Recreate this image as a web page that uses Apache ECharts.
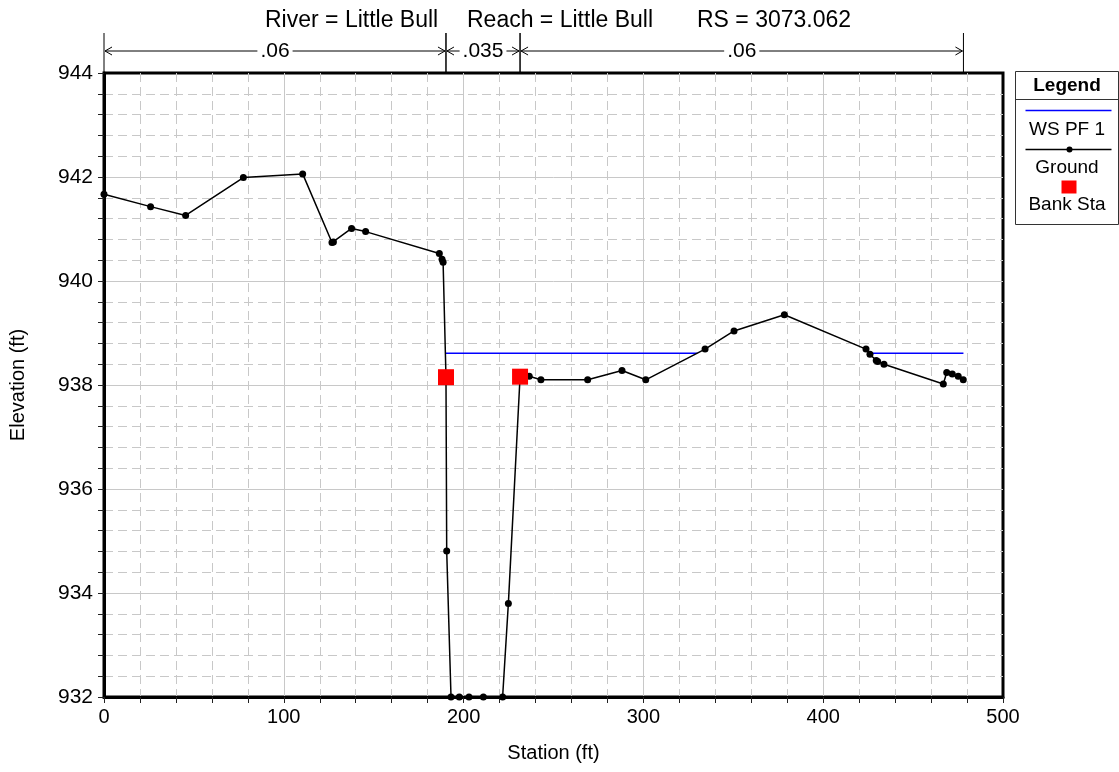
<!DOCTYPE html>
<html>
<head>
<meta charset="utf-8">
<title>Little Bull cross section</title>
<script src="https://cdn.jsdelivr.net/npm/echarts@6/dist/echarts.min.js"></script>
<style>
  html, body { margin: 0; padding: 0; background: #fff; }
  #echartsBox { width: 1119px; height: 772px; }
</style>
</head>
<body>
<div id="echartsBox"></div>
<script>
const FONT = '"Liberation Sans", Arial, sans-serif';

// ground survey points (station ft, elevation ft)
const groundStation = [0, 25.9, 45.4, 77.5, 110.5, 126.8, 127.6, 137.7, 145.5, 186.5, 188.0, 188.6, 190.2, 190.6,
  193.0, 197.6, 203.0, 211.0, 221.7, 224.9, 231.4, 236.5, 243.0, 269.0, 288.1, 301.3, 334.3, 350.4, 378.4,
  423.8, 426.0, 429.5, 430.3, 433.8, 466.8, 468.7, 471.8, 475.1, 477.9];
const groundElev = [941.67, 941.43, 941.26, 941.99, 942.06, 940.74, 940.75, 941.01, 940.95, 940.53, 940.42, 940.36, 938.15, 934.81,
  932.0, 932.0, 932.0, 932.0, 932.0, 933.80, 938.16, 938.17, 938.10, 938.10, 938.28, 938.10, 938.69, 939.04, 939.35,
  938.69, 938.59, 938.47, 938.45, 938.40, 938.02, 938.24, 938.21, 938.17, 938.10];

// water surface PF 1, two wetted stretches
const wsElev = 938.61;
const wsLeftStation = [190.0, 330.0];
const wsRightStation = [425.3, 478.0];

// bank stations
const bankStation = [190.2, 231.4];
const bankElev = [938.15, 938.16];

// manning's n regions
const nBreaks = [0, 190.2, 231.4, 478.0];
const nValues = ['.06', '.035', '.06'];

const xTicks = [0, 500, 100];
const yTicks = [932, 944, 2];

const zip = (xs, ys) => xs.map((x, i) => [x, ys[i]]);

function renderN(params, api) {
  const a = api.coord([api.value(0), yTicks[1]]);
  const b = api.coord([api.value(1), yTicks[1]]);
  const top = a[1];
  const yTop = top - 40;
  const yArr = top - 22;
  const mid = (a[0] + b[0]) / 2;
  const stroke = { stroke: '#000', lineWidth: 1 };
  return {
    type: 'group',
    children: [
      { type: 'line', shape: { x1: a[0], y1: yTop, x2: a[0], y2: top }, style: stroke },
      { type: 'line', shape: { x1: b[0], y1: yTop, x2: b[0], y2: top }, style: stroke },
      { type: 'line', shape: { x1: a[0] + 1, y1: yArr, x2: b[0] - 1, y2: yArr }, style: stroke },
      { type: 'polyline', shape: { points: [[a[0] + 8, yArr - 4], [a[0] + 1, yArr], [a[0] + 8, yArr + 4]] }, style: Object.assign({ fill: null }, stroke) },
      { type: 'polyline', shape: { points: [[b[0] - 8, yArr - 4], [b[0] - 1, yArr], [b[0] - 8, yArr + 4]] }, style: Object.assign({ fill: null }, stroke) },
      {
        type: 'text',
        z2: 10,
        style: {
          text: nValues[params.dataIndex], x: mid, y: yArr, align: 'center', verticalAlign: 'middle',
          font: '21px ' + FONT, fill: '#000', backgroundColor: '#fff', padding: [0, 3]
        }
      }
    ]
  };
}

const nData = nValues.map((v, i) => [nBreaks[i], nBreaks[i + 1], yTicks[1]]);

let option = {
  backgroundColor: '#fff',
  animation: false,
  textStyle: { fontFamily: FONT },
  grid: {
    left: 104, top: 73, width: 899, height: 624,
    show: true, borderColor: '#000', borderWidth: 3, backgroundColor: '#fff'
  },
  xAxis: {
    type: 'value', min: xTicks[0], max: xTicks[1], interval: xTicks[2],
    name: 'Station (ft)', nameLocation: 'middle', nameGap: 46,
    nameTextStyle: { fontSize: 20, color: '#000', fontFamily: FONT },
    axisLine: { show: true, onZero: false, lineStyle: { color: '#000', width: 3 } },
    axisTick: { show: true, length: 6, lineStyle: { color: '#222' } },
    minorTick: { show: true, splitNumber: 5, length: 6, lineStyle: { color: '#222' } },
    axisLabel: { fontSize: 20, color: '#000', margin: 10, fontFamily: FONT },
    splitLine: { show: true, showMinLine: false, showMaxLine: false, lineStyle: { color: '#c8c8c8' } },
    minorSplitLine: { show: true, lineStyle: { color: '#c8c8c8', type: [9, 5] } }
  },
  yAxis: {
    type: 'value', min: yTicks[0], max: yTicks[1], interval: yTicks[2],
    name: 'Elevation (ft)', nameLocation: 'middle', nameGap: 76,
    nameTextStyle: { fontSize: 20, color: '#000', fontFamily: FONT },
    axisLine: { show: true, onZero: false, lineStyle: { color: '#000', width: 3 } },
    axisTick: { show: true, length: 6, lineStyle: { color: '#222' } },
    minorTick: { show: true, splitNumber: 5, length: 6, lineStyle: { color: '#222' } },
    axisLabel: { fontSize: 21, color: '#000', margin: 11, fontFamily: FONT },
    splitLine: { show: true, showMinLine: false, showMaxLine: false, lineStyle: { color: '#c8c8c8' } },
    minorSplitLine: { show: true, lineStyle: { color: '#c8c8c8', type: [9, 5] } }
  },
  series: [
    {
      name: 'WS PF 1', type: 'line', z: 2, symbol: 'none',
      lineStyle: { color: '#0000ff', width: 1.5 },
      data: zip(wsLeftStation, [wsElev, wsElev])
    },
    {
      name: 'WS PF 1', type: 'line', z: 2, symbol: 'none',
      lineStyle: { color: '#0000ff', width: 1.5 },
      data: zip(wsRightStation, [wsElev, wsElev])
    },
    {
      name: 'Ground', type: 'line', z: 3,
      symbol: 'circle', symbolSize: 7,
      itemStyle: { color: '#000' },
      lineStyle: { color: '#000', width: 1.5 },
      data: zip(groundStation, groundElev)
    },
    {
      name: 'Bank Sta', type: 'scatter', z: 4,
      symbol: 'rect', symbolSize: 16,
      itemStyle: { color: '#ff0000', opacity: 1 },
      data: zip(bankStation, bankElev)
    },
    {
      name: 'n', type: 'custom', clip: false, silent: true,
      renderItem: renderN,
      encode: { x: [0, 1], y: 2 },
      data: nData
    }
  ],
  graphic: [
    { type: 'text', left: 265, top: 9, style: { text: 'River = Little Bull', font: '23px ' + FONT, fill: '#000' } },
    { type: 'text', left: 467, top: 9, style: { text: 'Reach = Little Bull', font: '23px ' + FONT, fill: '#000' } },
    { type: 'text', left: 697, top: 9, style: { text: 'RS = 3073.062', font: '23px ' + FONT, fill: '#000' } },
    {
      type: 'group', left: 1013, top: 71,
      children: [
        { type: 'rect', shape: { x: 0, y: 0, width: 103, height: 153 }, style: { fill: '#fff', stroke: '#333', lineWidth: 1 } },
        { type: 'line', shape: { x1: 0, y1: 28, x2: 103, y2: 28 }, style: { stroke: '#333', lineWidth: 1 } },
        { type: 'text', x: 51.5, y: 14, style: { text: 'Legend', font: 'bold 19px ' + FONT, fill: '#000', align: 'center', verticalAlign: 'middle' } },
        { type: 'line', shape: { x1: 10, y1: 39, x2: 96, y2: 39 }, style: { stroke: '#0000ff', lineWidth: 1.5 } },
        { type: 'text', x: 51.5, y: 58, style: { text: 'WS PF 1', font: '19px ' + FONT, fill: '#000', align: 'center', verticalAlign: 'middle' } },
        { type: 'line', shape: { x1: 10, y1: 78, x2: 96, y2: 78 }, style: { stroke: '#000', lineWidth: 1.5 } },
        { type: 'circle', shape: { cx: 54, cy: 78, r: 3 }, style: { fill: '#000' } },
        { type: 'text', x: 51.5, y: 96, style: { text: 'Ground', font: '19px ' + FONT, fill: '#000', align: 'center', verticalAlign: 'middle' } },
        { type: 'rect', shape: { x: 46, y: 109, width: 15, height: 13 }, style: { fill: '#ff0000' } },
        { type: 'text', x: 51.5, y: 133, style: { text: 'Bank Sta', font: '19px ' + FONT, fill: '#000', align: 'center', verticalAlign: 'middle' } }
      ]
    }
  ]
};

let myChart = echarts.init(document.getElementById('echartsBox'));
myChart.setOption(option);
</script>
</body>
</html>
